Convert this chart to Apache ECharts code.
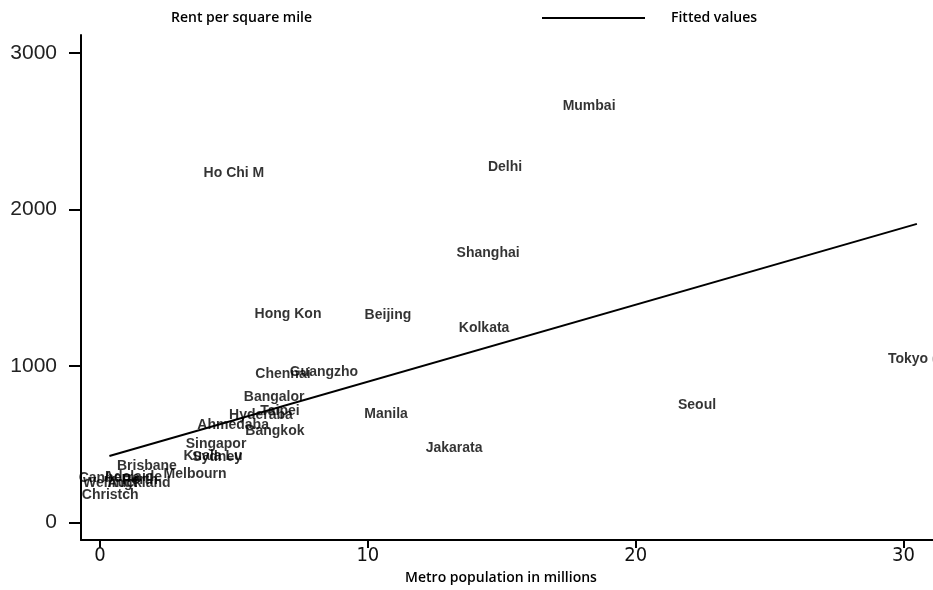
<!DOCTYPE html>
<html>
<head>
<meta charset="utf-8">
<script src="https://cdn.jsdelivr.net/npm/echarts@6/dist/echarts.min.js"></script>
<style>html,body{margin:0;padding:0;background:#fff}#c{width:933px;height:590px}</style>
</head>
<body>
<div id="c"></div>
<script>
// City labels (truncated as in source), metro population (millions), rent per square mile
const cities = ["Mumbai","Delhi","Ho Chi M","Shanghai","Hong Kon","Beijing","Kolkata","Tokyo (Y","Seoul","Manila","Jakarata","Chennai","Guangzho","Bangalor","Taipei","Hyderaba","Ahmedaba","Bangkok","Singapor","Kuala Lu","Sydney","Melbourn","Brisbane","Canberra","Adelaide","Perth","Wellingt","Auckland","Christch"];
const population = [18.26,15.12,5.00,14.49,7.02,10.75,14.34,30.5,22.29,10.68,13.22,6.83,8.36,6.50,6.72,6.01,4.97,6.53,4.33,4.22,4.37,3.55,1.75,0.35,1.23,1.49,0.38,1.46,0.38];
const rent = [2658,2272,2228,1722,1329,1323,1241,1044,747,690,475,949,962,797,709,684,620,582,500,424,418,310,361,285,291,272,247,247,171];
// Fitted values line endpoints
const fitX = [0.35, 30.5];
const fitY = [424, 1907];
// Axis tick labels
const xTicks = [0, 10, 20, 30];
const yTicks = [0, 1000, 2000, 3000];

const chart = echarts.init(document.getElementById('c'), null, {renderer:'canvas'});
const scatterData = cities.map((n,i)=>({name:n, value:[population[i], rent[i]]}));
const fitData = fitX.map((x,i)=>[x, fitY[i]]);
const legendFont = {fontFamily:'"Open Sans", sans-serif', fontSize:14, fontWeight:600, color:'#000'};

chart.setOption({
  backgroundColor:'#fff',
  animation:false,
  grid:{left:81, right:0, top:35, bottom:45, containLabel:false},
  legend:[
    {data:['Rent per square mile'], left:161, top:6, icon:'rect', itemWidth:0, itemHeight:14, textStyle:legendFont},
    {data:[{name:'Fitted values', icon:'rect'}], left:537, top:6, itemWidth:103, itemHeight:2, textStyle:Object.assign({padding:[0,0,0,21]}, legendFont)}
  ],
  xAxis:{
    type:'value', min:-0.71, max:31.1,
    name:'Metro population in millions', nameLocation:'middle', nameGap:29,
    nameTextStyle:Object.assign({padding:[0,12,0,0]}, legendFont),
    axisLine:{show:true, onZero:false, lineStyle:{color:'#000', width:2}},
    axisTick:{show:true, length:8, lineStyle:{color:'#000', width:2}, customValues:xTicks},
    axisLabel:{customValues:xTicks, margin:6, fontFamily:'"Liberation Sans Narrow", "DejaVu Sans Condensed", sans-serif', fontSize:20, color:'#111'},
    splitLine:{show:false}
  },
  yAxis:{
    type:'value', min:-114, max:3114,
    axisLine:{show:true, onZero:false, lineStyle:{color:'#000', width:2}},
    axisTick:{show:true, length:12, lineStyle:{color:'#000', width:2}, customValues:yTicks},
    axisLabel:{customValues:yTicks, margin:24, formatter:v=>String(v), fontFamily:'"Liberation Sans", Arial, sans-serif', fontSize:21, color:'#222'},
    splitLine:{show:false}
  },
  series:[
    {
      name:'Rent per square mile', type:'scatter', symbolSize:0, symbol:'circle',
      itemStyle:{color:'#000'},
      data:scatterData,
      label:{show:true, position:'inside', formatter:p=>p.name, color:'#000', fontFamily:'"Liberation Sans", Arial, sans-serif', fontSize:14, fontWeight:'bold'},
      labelLayout:{hideOverlap:false},
      z:3
    },
    {
      name:'Fitted values', type:'line', symbol:'none', showSymbol:false,
      data:fitData,
      lineStyle:{color:'#000', width:2},
      itemStyle:{color:'#000'},
      z:2
    }
  ]
});
</script>
</body>
</html>
